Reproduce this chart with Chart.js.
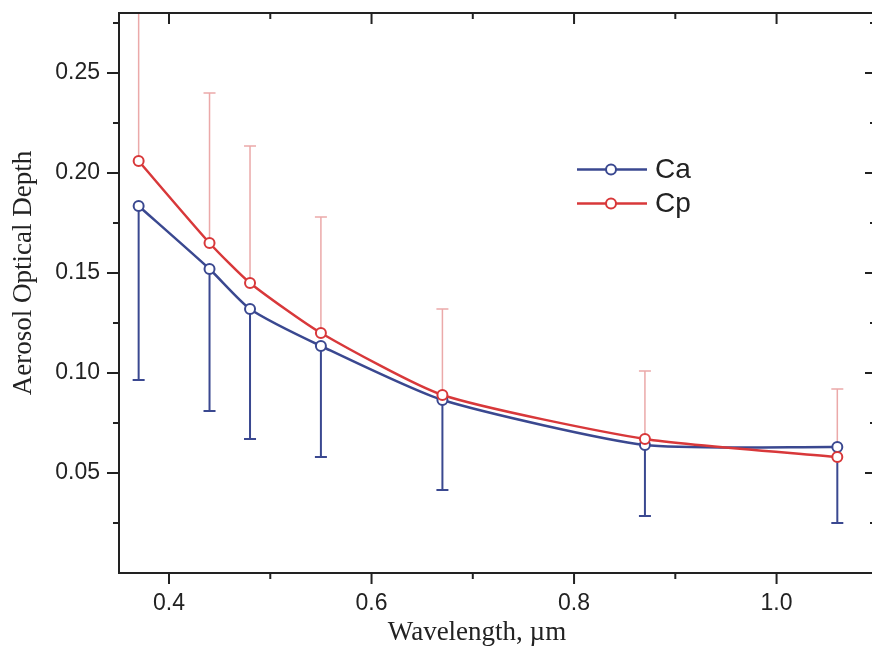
<!DOCTYPE html>
<html>
<head>
<meta charset="utf-8">
<title>Aerosol Optical Depth</title>
<script src="https://cdn.jsdelivr.net/npm/chart.js@4.4.1/dist/chart.umd.min.js"></script>
<style>
    html, body { margin: 0; padding: 0; background: #fff; overflow: hidden; }
    #wrap { position: absolute; left: 0; top: 0; width: 880px; height: 647px; }
</style>
</head>
<body>
<div id="wrap"><canvas id="aodChart" width="880" height="647"></canvas></div>
<script>
// values
const wavelengths = [0.37, 0.44, 0.48, 0.55, 0.67, 0.87, 1.06];
const caValues = [0.1835, 0.152, 0.132, 0.1135, 0.0865, 0.064, 0.063];
const caLower = [0.0965, 0.081, 0.067, 0.058, 0.0415, 0.0285, 0.025];
const cpValues = [0.206, 0.165, 0.145, 0.120, 0.089, 0.067, 0.058];
const cpUpper = [0.300, 0.240, 0.2135, 0.178, 0.132, 0.101, 0.092];

const xTicks = [0.4, 0.6, 0.8, 1.0];
const xMinorTicks = [0.5, 0.7, 0.9];
const yTicks = [0.05, 0.10, 0.15, 0.20, 0.25];
const yMinorTicks = [0.025, 0.075, 0.125, 0.175, 0.225, 0.275];

const BLUE = '#3a4890';
const RED = '#d8383a';
const PINK = '#eba9a9';
const INK = '#222';
const SANS = '"Liberation Sans", Arial, sans-serif';
const SERIF = '"Liberation Serif", "Times New Roman", serif';

const toPoints = (vals) => wavelengths.map((w, i) => ({ x: w, y: vals[i] }));

// vertical error bars, one side only
const errorBars = {
    id: 'errorBars',
    beforeDatasetsDraw(chart) {
        const { ctx, chartArea: a, scales: { x, y } } = chart;
        ctx.save();
        ctx.beginPath();
        ctx.rect(a.left, a.top, a.right - a.left, a.bottom - a.top);
        ctx.clip();
        chart.data.datasets.forEach((ds) => {
            if (!ds.errEnd) return;
            ctx.strokeStyle = ds.errColor;
            ctx.lineWidth = ds.errWidth;
            ds.data.forEach((p, i) => {
                const px = x.getPixelForValue(p.x);
                const py = y.getPixelForValue(p.y);
                const pe = y.getPixelForValue(ds.errEnd[i]);
                ctx.beginPath();
                ctx.moveTo(px, py);
                ctx.lineTo(px, pe);
                ctx.moveTo(px - 6, pe);
                ctx.lineTo(px + 6, pe);
                ctx.stroke();
            });
        });
        ctx.restore();
    }
};

// frame with outside ticks on left/bottom and inside ticks on top/right
const frame = {
    id: 'frame',
    afterDatasetsDraw(chart) {
        const { ctx, chartArea: a, scales: { x, y } } = chart;
        const line = (x1, y1, x2, y2) => { ctx.beginPath(); ctx.moveTo(x1, y1); ctx.lineTo(x2, y2); ctx.stroke(); };
        ctx.save();
        ctx.strokeStyle = INK;
        ctx.lineWidth = 2;
        // right edge of the box falls just outside the picture
        ctx.beginPath();
        ctx.moveTo(a.right + 2, a.top);
        ctx.lineTo(a.left, a.top);
        ctx.lineTo(a.left, a.bottom);
        ctx.lineTo(a.right + 2, a.bottom);
        ctx.stroke();
        xTicks.forEach((v) => {
            const px = x.getPixelForValue(v);
            line(px, a.bottom, px, a.bottom + 11);
            line(px, a.top, px, a.top + 11);
        });
        xMinorTicks.forEach((v) => {
            const px = x.getPixelForValue(v);
            line(px, a.bottom, px, a.bottom + 6);
            line(px, a.top, px, a.top + 6);
        });
        yTicks.forEach((v) => {
            const py = y.getPixelForValue(v);
            line(a.left - 12, py, a.left, py);
            line(a.right - 11, py, a.right, py);
        });
        yMinorTicks.forEach((v) => {
            const py = y.getPixelForValue(v);
            line(a.left - 6, py, a.left, py);
            line(a.right - 6, py, a.right, py);
        });
        ctx.restore();
    }
};

const legendBox = {
    id: 'legendBox',
    afterDraw(chart) {
        const { ctx } = chart;
        ctx.save();
        chart.data.datasets.slice().reverse().forEach((ds, i) => {
            const ly = 169.5 + i * 34;
            ctx.strokeStyle = ds.borderColor;
            ctx.lineWidth = 2.5;
            ctx.beginPath();
            ctx.moveTo(577, ly);
            ctx.lineTo(647, ly);
            ctx.stroke();
            ctx.beginPath();
            ctx.arc(611, ly, 5, 0, Math.PI * 2);
            ctx.fillStyle = '#fff';
            ctx.fill();
            ctx.lineWidth = 2;
            ctx.stroke();
            ctx.fillStyle = INK;
            ctx.font = `28px ${SANS}`;
            ctx.textAlign = 'left';
            ctx.textBaseline = 'middle';
            ctx.fillText(ds.label, 655, ly + 1);
        });
        ctx.restore();
    }
};

const axisTitles = {
    id: 'axisTitles',
    afterDraw(chart) {
        const { ctx } = chart;
        ctx.save();
        ctx.fillStyle = INK;
        ctx.font = `27px ${SERIF}`;
        ctx.textAlign = 'center';
        ctx.textBaseline = 'alphabetic';
        ctx.fillText('Wavelength, \u00b5m', 477, 640);
        ctx.translate(31, 273);
        ctx.rotate(-Math.PI / 2);
        ctx.fillText('Aerosol Optical Depth', 0, 0);
        ctx.restore();
    }
};

new Chart(document.getElementById('aodChart'), {
    type: 'line',
    data: {
        datasets: [
            {
                label: 'Cp',
                data: toPoints(cpValues),
                errEnd: cpUpper,
                errColor: PINK,
                errWidth: 1.5,
                borderColor: RED,
                pointBorderColor: RED,
                pointBackgroundColor: '#fff',
                borderWidth: 2.5,
                pointRadius: 5,
                pointBorderWidth: 2,
                tension: 0.2
            },
            {
                label: 'Ca',
                data: toPoints(caValues),
                errEnd: caLower,
                errColor: BLUE,
                errWidth: 2,
                borderColor: BLUE,
                pointBorderColor: BLUE,
                pointBackgroundColor: '#fff',
                borderWidth: 2.5,
                pointRadius: 5,
                pointBorderWidth: 2,
                tension: 0.2
            }
        ]
    },
    options: {
        responsive: false,
        animation: false,
        devicePixelRatio: 1,
        layout: { autoPadding: false, padding: { top: 13, right: 4, left: 0, bottom: 0 } },
        plugins: { legend: { display: false }, tooltip: { enabled: false } },
        scales: {
            x: {
                type: 'linear',
                min: 0.3506,
                max: 1.0982,
                afterBuildTicks: (s) => { s.ticks = xTicks.map((v) => ({ value: v })); },
                afterFit: (s) => { s.height = 74; s.paddingLeft = 0; s.paddingRight = 0; },
                grid: { display: false, drawTicks: false },
                border: { display: false },
                ticks: {
                    callback: (v) => Number(v).toFixed(1),
                    font: { family: SANS, size: 23 },
                    color: INK,
                    padding: 17,
                    maxRotation: 0
                }
            },
            y: {
                min: 0,
                max: 0.28,
                afterBuildTicks: (s) => { s.ticks = yTicks.map((v) => ({ value: v })); },
                afterFit: (s) => { s.width = 119; s.paddingTop = 0; s.paddingBottom = 0; },
                grid: { display: false, drawTicks: false },
                border: { display: false },
                ticks: {
                    callback: (v) => Number(v).toFixed(2),
                    font: { family: SANS, size: 23 },
                    color: INK,
                    padding: 19
                }
            }
        }
    },
    plugins: [errorBars, frame, legendBox, axisTitles]
});
</script>
</body>
</html>
